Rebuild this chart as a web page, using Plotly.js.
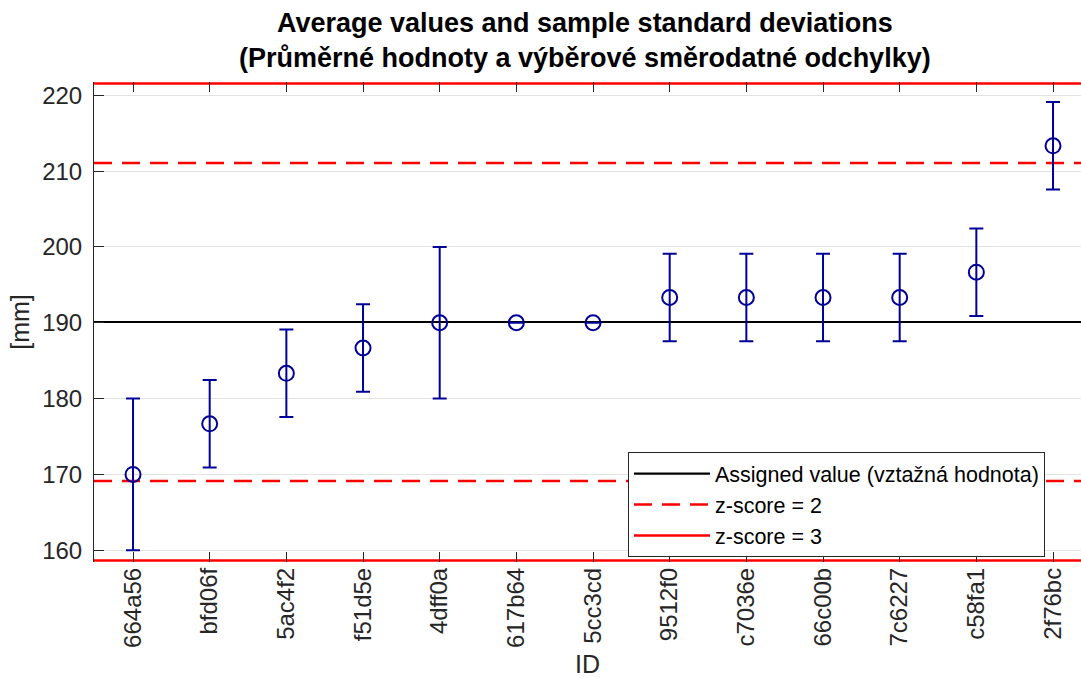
<!DOCTYPE html>
<html>
<head>
<meta charset="utf-8">
<script src="https://cdn.plot.ly/plotly-3.0.1.min.js"></script>
<style>html,body{margin:0;padding:0;background:#fff;}#chart{width:1081px;height:678px;}</style>
</head>
<body>
<div id="chart"></div>
<script>
// ---- data ----
const ids = ['664a56','bfd06f','5ac4f2','f51d5e','4dff0a','617b64','5cc3cd','9512f0','c7036e','66c00b','7c6227','c58fa1','2f76bc'];
const means = [170.0, 176.67, 183.33, 186.67, 190.0, 190.0, 190.0, 193.33, 193.33, 193.33, 193.33, 196.67, 213.33];
const sds = [10.0, 5.77, 5.77, 5.77, 10.0, 0, 0, 5.77, 5.77, 5.77, 5.77, 5.77, 5.77];
const assignedValue = 190.1;
const z2Limits = [169.14, 211.06];
const z3Limits = [158.66, 221.54];
const yTicks = [160, 170, 180, 190, 200, 210, 220];
const legendNames = ['Assigned value (vztažná hodnota)', 'z-score = 2', 'z-score = 3'];

// ---- chart ----
const idx = ids.map((_, i) => i);
const xRange = [-0.509, 12.365];
const font = 'Liberation Sans, Arial, Helvetica, sans-serif';
const txt = '#262626';
const blue = '#000099';

const traces = [
  {
    x: [xRange[0], xRange[1]], y: [assignedValue, assignedValue],
    mode: 'lines', name: legendNames[0],
    line: {color: '#000000', width: 2.2}, hoverinfo: 'skip'
  },
  {
    x: [xRange[0], xRange[1], null, xRange[0], xRange[1]],
    y: [z2Limits[0], z2Limits[0], null, z2Limits[1], z2Limits[1]],
    mode: 'lines', name: legendNames[1], connectgaps: false,
    line: {color: '#ff0000', width: 2.5, dash: '18px,10px'}, hoverinfo: 'skip'
  },
  {
    x: [xRange[0], xRange[1], null, xRange[0], xRange[1]],
    y: [z3Limits[0], z3Limits[0], null, z3Limits[1], z3Limits[1]],
    mode: 'lines', name: legendNames[2], connectgaps: false,
    line: {color: '#ff0000', width: 2.5}, hoverinfo: 'skip'
  },
  {
    x: idx, y: means, mode: 'markers', showlegend: false,
    marker: {symbol: 'circle-open', size: 15, color: blue, line: {width: 2, color: blue}},
    error_y: {type: 'data', array: sds, visible: true, color: blue, thickness: 2, width: 7}
  }
];

const layout = {
  width: 1081, height: 678,
  margin: {l: 94, r: 0, t: 82, b: 116},
  paper_bgcolor: '#ffffff', plot_bgcolor: '#ffffff',
  font: {family: font, color: txt, size: 24},
  title: {
    text: '<b>Average values and sample standard deviations<br>(Průměrné hodnoty a výběrové směrodatné odchylky)</b>',
    font: {family: font, size: 27, color: '#000000'},
    x: 0.541, xanchor: 'center', xref: 'container',
    y: 0.953, yanchor: 'top', yref: 'container'
  },
  xaxis: {
    range: xRange, tickmode: 'array', tickvals: idx, ticktext: ids,
    tickangle: -90, ticks: 'inside', ticklen: 10, tickcolor: txt, tickwidth: 1,
    mirror: 'ticks', showline: false, showgrid: false, zeroline: false,
    tickfont: {family: font, size: 24, color: txt},
    title: {text: 'ID', font: {family: font, size: 25, color: txt}, standoff: 10}
  },
  yaxis: {
    range: [158.45, 221.75], tickmode: 'array', tickvals: yTicks,
    ticks: 'inside', ticklen: 10, tickcolor: txt, tickwidth: 1,
    showline: true, linecolor: txt, linewidth: 1,
    showgrid: true, gridcolor: '#e3e3e3', gridwidth: 1, zeroline: false,
    tickfont: {family: font, size: 24, color: txt}, ticklabelstandoff: 6,
    title: {text: '[mm]', font: {family: font, size: 25, color: txt}, standoff: 5}
  },
  showlegend: true,
  legend: {
    x: 0.541, y: 0.229, xanchor: 'left', yanchor: 'top',
    bgcolor: '#ffffff', bordercolor: txt, borderwidth: 1,
    font: {family: font, size: 21.5, color: '#000000'},
    itemwidth: 76, traceorder: 'normal', tracegroupgap: 0
  }
};

Plotly.newPlot('chart', traces, layout, {displayModeBar: false, staticPlot: true});
</script>
</body>
</html>
